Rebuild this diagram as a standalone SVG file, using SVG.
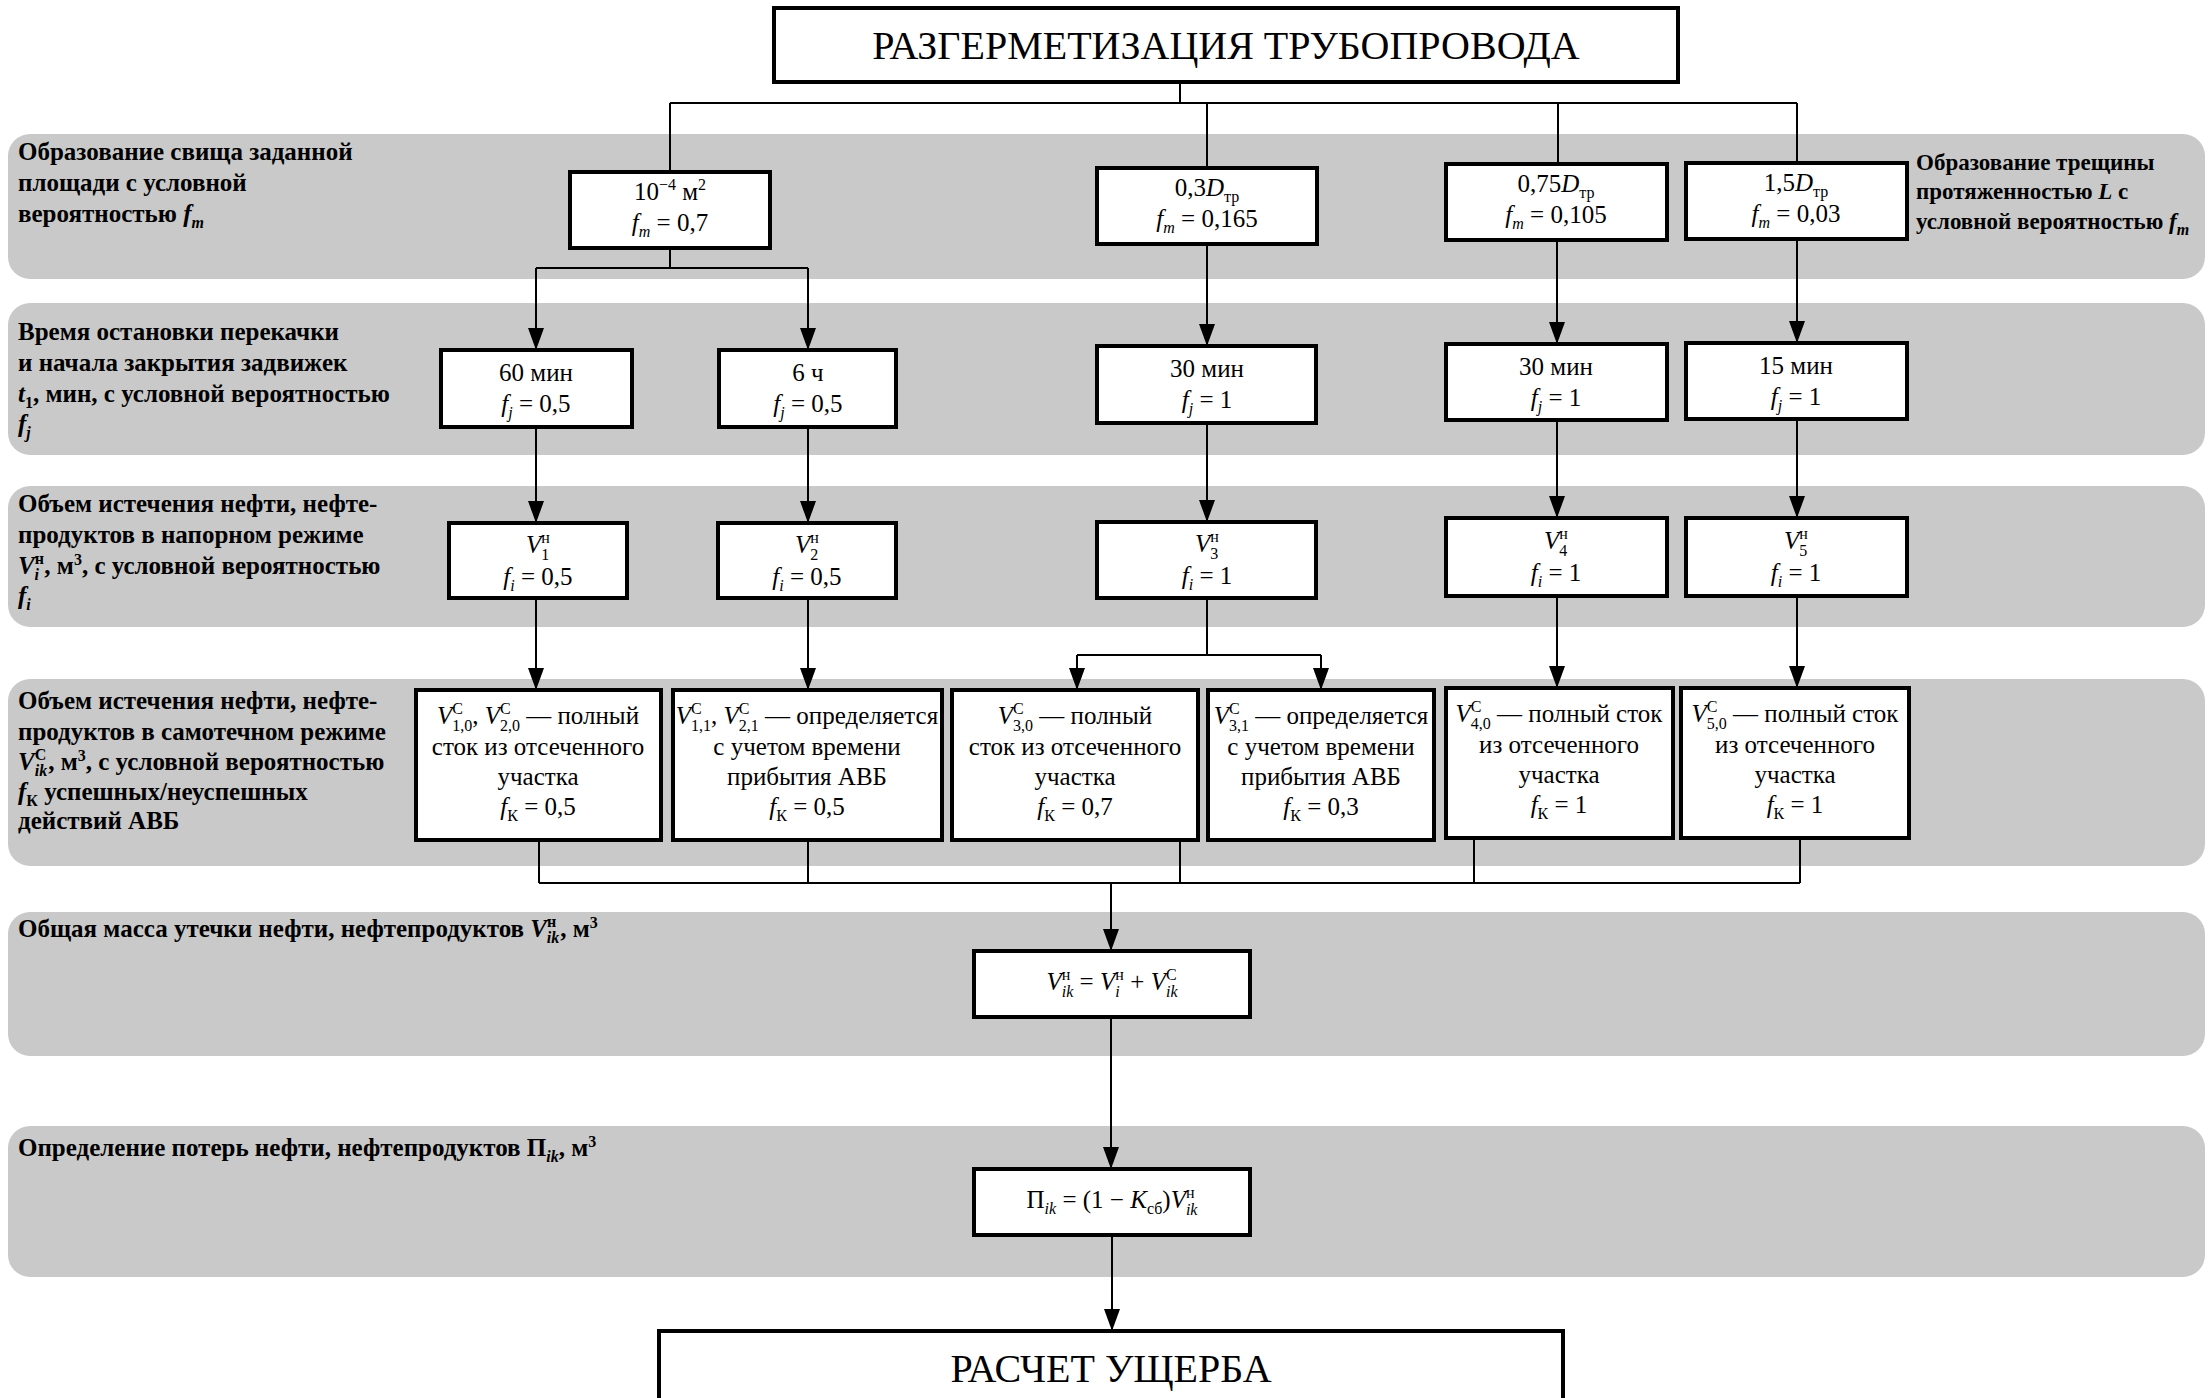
<svg xmlns="http://www.w3.org/2000/svg" width="2208" height="1398" viewBox="0 0 2208 1398">
<style>
.band{fill:#c9c9c9}
.box{fill:#fff;stroke:#000;stroke-width:4}
.con{fill:none;stroke:#000;stroke-width:2}
.arr{fill:none;stroke:#000;stroke-width:2;marker-end:url(#ah)}
.bt{font-family:"Liberation Serif",serif;font-size:25px;text-anchor:middle;fill:#000}
.ttl{font-family:"Liberation Serif",serif;font-size:40px;text-anchor:middle;fill:#000}
.lb{font-family:"Liberation Serif",serif;font-size:25px;font-weight:bold;fill:#000}
.rb{font-size:23px}
.i{font-style:italic}
.s{font-size:16px}
</style>
<defs>
<marker id="ah" viewBox="0 0 22 16" markerWidth="22" markerHeight="16" refX="22" refY="8" orient="auto" markerUnits="userSpaceOnUse"><path d="M0,0 L22,8 L0,16 Z" fill="#000"/></marker>
</defs>
<rect width="2208" height="1398" fill="#fff"/>
<g id="bands">
<rect class="band" x="8" y="134" width="2197" height="145" rx="22"/>
<rect class="band" x="8" y="303" width="2197" height="152" rx="22"/>
<rect class="band" x="8" y="486" width="2197" height="141" rx="22"/>
<rect class="band" x="8" y="679" width="2197" height="187" rx="22"/>
<rect class="band" x="8" y="912" width="2197" height="144" rx="22"/>
<rect class="band" x="8" y="1126" width="2197" height="151" rx="22"/>
</g>
<g id="labels">
<text class="lb" x="18" y="160">Образование свища заданной</text>
<text class="lb" x="18" y="191">площади с условной</text>
<text class="lb" x="18" y="222">вероятностью <tspan class="i">f</tspan><tspan class="s i" dy="6">m</tspan></text>
<text class="lb" x="18" y="340">Время остановки перекачки</text>
<text class="lb" x="18" y="371">и начала закрытия задвижек</text>
<text class="lb" x="18" y="402"><tspan class="i">t</tspan><tspan class="s" dy="6">1</tspan><tspan dy="-6">, мин, с условной вероятностью</tspan></text>
<text class="lb" x="18" y="432"><tspan class="i">f</tspan><tspan class="s i" dy="6">j</tspan></text>
<text class="lb" x="18" y="512">Объем истечения нефти, нефте-</text>
<text class="lb" x="18" y="543">продуктов в напорном режиме</text>
<text class="lb" x="18" y="574"><tspan class="i">V</tspan><tspan class="s" dy="-10">н</tspan><tspan class="s i" dx="-9.5" dy="16">i</tspan><tspan dx="5.5" dy="-6">, м</tspan><tspan class="s" dy="-9">3</tspan><tspan dy="9">, с условной вероятностью</tspan></text>
<text class="lb" x="18" y="604"><tspan class="i">f</tspan><tspan class="s i" dy="6">i</tspan></text>
<text class="lb" x="18" y="709">Объем истечения нефти, нефте-</text>
<text class="lb" x="18" y="740">продуктов в самотечном режиме</text>
<text class="lb" x="18" y="770"><tspan class="i">V</tspan><tspan class="s" dy="-10">С</tspan><tspan class="s i" dx="-11.5" dy="16">ik</tspan><tspan dx="1" dy="-6">, м</tspan><tspan class="s" dy="-9">3</tspan><tspan dy="9">, с условной вероятностью</tspan></text>
<text class="lb" x="18" y="800"><tspan class="i">f</tspan><tspan class="s" dy="6">К</tspan><tspan dy="-6"> успешных/неуспешных</tspan></text>
<text class="lb" x="18" y="829">действий АВБ</text>
<text class="lb" x="18" y="937">Общая масса утечки нефти, нефтепродуктов <tspan class="i">V</tspan><tspan class="s" dy="-10">н</tspan><tspan class="s i" dx="-9.5" dy="16">ik</tspan><tspan dx="1" dy="-6">, м</tspan><tspan class="s" dy="-9">3</tspan></text>
<text class="lb" x="18" y="1156">Определение потерь нефти, нефтепродуктов П<tspan class="s i" dy="6">ik</tspan><tspan dy="-6">, м</tspan><tspan class="s" dy="-9">3</tspan></text>
<text class="lb rb" x="1916" y="170">Образование трещины</text>
<text class="lb rb" x="1916" y="199">протяженностью <tspan class="i">L</tspan> с</text>
<text class="lb rb" x="1916" y="229">условной вероятностью <tspan class="i">f</tspan><tspan class="s i" dy="6">m</tspan></text>
</g>
<g id="connectors">
<path class="con" d="M1180 82V103M670 103H1797M670 103V172M1207 103V168M1558 103V164M1797 103V163"/>
<path class="con" d="M670 248V268M536 268H808"/>
<path class="arr" d="M536 268V350"/>
<path class="arr" d="M808 268V350"/>
<path class="arr" d="M1207 244V346"/>
<path class="arr" d="M1557 240V344"/>
<path class="arr" d="M1797 239V343"/>
<path class="arr" d="M536 427V523"/>
<path class="arr" d="M808 427V523"/>
<path class="arr" d="M1207 423V522"/>
<path class="arr" d="M1557 420V518"/>
<path class="arr" d="M1797 419V518"/>
<path class="arr" d="M536 598V690"/>
<path class="arr" d="M808 598V690"/>
<path class="con" d="M1207 598V655M1077 655H1321"/>
<path class="arr" d="M1077 655V690"/>
<path class="arr" d="M1321 655V690"/>
<path class="arr" d="M1557 596V688"/>
<path class="arr" d="M1797 596V688"/>
<path class="con" d="M539 840V883M808 840V883M1180 840V883M1474 838V883M1800 838V883M539 883H1800"/>
<path class="arr" d="M1111 883V951"/>
<path class="arr" d="M1111 1017V1169"/>
<path class="arr" d="M1112 1235V1331"/>
</g>
<g id="n-title"><rect class="box" x="774" y="8" width="904" height="74"/><text class="ttl" x="1226" y="59">РАЗГЕРМЕТИЗАЦИЯ ТРУБОПРОВОДА</text></g>
<g id="n-a1"><rect class="box" x="570" y="172" width="200" height="76"/>
<text class="bt" x="670" y="200">10<tspan class="s" dy="-10">−4</tspan><tspan dy="10"> м</tspan><tspan class="s" dy="-10">2</tspan></text>
<text class="bt" x="670" y="231"><tspan class="i">f</tspan><tspan class="s i" dy="6">m</tspan><tspan dy="-6"> = 0,7</tspan></text></g>
<g id="n-a3"><rect class="box" x="1097" y="168" width="220" height="76"/>
<text class="bt" x="1207" y="196">0,3<tspan class="i">D</tspan><tspan class="s" dy="6">тр</tspan></text>
<text class="bt" x="1207" y="227"><tspan class="i">f</tspan><tspan class="s i" dy="6">m</tspan><tspan dy="-6"> = 0,165</tspan></text></g>
<g id="n-a4"><rect class="box" x="1446" y="164" width="221" height="76"/>
<text class="bt" x="1556" y="192">0,75<tspan class="i">D</tspan><tspan class="s" dy="6">тр</tspan></text>
<text class="bt" x="1556" y="223"><tspan class="i">f</tspan><tspan class="s i" dy="6">m</tspan><tspan dy="-6"> = 0,105</tspan></text></g>
<g id="n-a5"><rect class="box" x="1686" y="163" width="221" height="76"/>
<text class="bt" x="1796" y="191">1,5<tspan class="i">D</tspan><tspan class="s" dy="6">тр</tspan></text>
<text class="bt" x="1796" y="222"><tspan class="i">f</tspan><tspan class="s i" dy="6">m</tspan><tspan dy="-6"> = 0,03</tspan></text></g>
<g id="n-b1"><rect class="box" x="441" y="350" width="191" height="77"/>
<text class="bt" x="536" y="381">60 мин</text>
<text class="bt" x="536" y="412"><tspan class="i">f</tspan><tspan class="s i" dy="6">j</tspan><tspan dy="-6"> = 0,5</tspan></text></g>
<g id="n-b2"><rect class="box" x="719" y="350" width="177" height="77"/>
<text class="bt" x="808" y="381">6 ч</text>
<text class="bt" x="808" y="412"><tspan class="i">f</tspan><tspan class="s i" dy="6">j</tspan><tspan dy="-6"> = 0,5</tspan></text></g>
<g id="n-b3"><rect class="box" x="1097" y="346" width="219" height="77"/>
<text class="bt" x="1207" y="377">30 мин</text>
<text class="bt" x="1207" y="408"><tspan class="i">f</tspan><tspan class="s i" dy="6">j</tspan><tspan dy="-6"> = 1</tspan></text></g>
<g id="n-b4"><rect class="box" x="1446" y="344" width="221" height="76"/>
<text class="bt" x="1556" y="375">30 мин</text>
<text class="bt" x="1556" y="406"><tspan class="i">f</tspan><tspan class="s i" dy="6">j</tspan><tspan dy="-6"> = 1</tspan></text></g>
<g id="n-b5"><rect class="box" x="1686" y="343" width="221" height="76"/>
<text class="bt" x="1796" y="374">15 мин</text>
<text class="bt" x="1796" y="405"><tspan class="i">f</tspan><tspan class="s i" dy="6">j</tspan><tspan dy="-6"> = 1</tspan></text></g>
<g id="n-c1"><rect class="box" x="449" y="523" width="178" height="75"/>
<text class="bt" x="538" y="553"><tspan class="i">V</tspan><tspan class="s" dy="-10">н</tspan><tspan class="s" dx="-8.6" dy="17">1</tspan></text>
<text class="bt" x="538" y="585"><tspan class="i">f</tspan><tspan class="s i" dy="6">i</tspan><tspan dy="-6"> = 0,5</tspan></text></g>
<g id="n-c2"><rect class="box" x="718" y="523" width="178" height="75"/>
<text class="bt" x="807" y="553"><tspan class="i">V</tspan><tspan class="s" dy="-10">н</tspan><tspan class="s" dx="-8.6" dy="17">2</tspan></text>
<text class="bt" x="807" y="585"><tspan class="i">f</tspan><tspan class="s i" dy="6">i</tspan><tspan dy="-6"> = 0,5</tspan></text></g>
<g id="n-c3"><rect class="box" x="1097" y="522" width="219" height="76"/>
<text class="bt" x="1207" y="552"><tspan class="i">V</tspan><tspan class="s" dy="-10">н</tspan><tspan class="s" dx="-8.6" dy="17">3</tspan></text>
<text class="bt" x="1207" y="584"><tspan class="i">f</tspan><tspan class="s i" dy="6">i</tspan><tspan dy="-6"> = 1</tspan></text></g>
<g id="n-c4"><rect class="box" x="1446" y="518" width="221" height="78"/>
<text class="bt" x="1556" y="549"><tspan class="i">V</tspan><tspan class="s" dy="-10">н</tspan><tspan class="s" dx="-8.6" dy="17">4</tspan></text>
<text class="bt" x="1556" y="581"><tspan class="i">f</tspan><tspan class="s i" dy="6">i</tspan><tspan dy="-6"> = 1</tspan></text></g>
<g id="n-c5"><rect class="box" x="1686" y="518" width="221" height="78"/>
<text class="bt" x="1796" y="549"><tspan class="i">V</tspan><tspan class="s" dy="-10">н</tspan><tspan class="s" dx="-8.6" dy="17">5</tspan></text>
<text class="bt" x="1796" y="581"><tspan class="i">f</tspan><tspan class="s i" dy="6">i</tspan><tspan dy="-6"> = 1</tspan></text></g>
<g id="n-d1"><rect class="box" x="416" y="690" width="245" height="150"/>
<text class="bt" x="538" y="724"><tspan class="i">V</tspan><tspan class="s" dy="-10">С</tspan><tspan class="s" dx="-10.7" dy="17">1,0</tspan><tspan dy="-7">, </tspan><tspan class="i">V</tspan><tspan class="s" dy="-10">С</tspan><tspan class="s" dx="-10.7" dy="17">2,0</tspan><tspan dy="-7"> — полный</tspan></text>
<text class="bt" x="538" y="755">сток из отсеченного</text>
<text class="bt" x="538" y="785">участка</text>
<text class="bt" x="538" y="815"><tspan class="i">f</tspan><tspan class="s" dy="6">К</tspan><tspan dy="-6"> = 0,5</tspan></text></g>
<g id="n-d2"><rect class="box" x="673" y="690" width="269" height="150"/>
<text class="bt" x="807" y="724"><tspan class="i">V</tspan><tspan class="s" dy="-10">С</tspan><tspan class="s" dx="-10.7" dy="17">1,1</tspan><tspan dy="-7">, </tspan><tspan class="i">V</tspan><tspan class="s" dy="-10">С</tspan><tspan class="s" dx="-10.7" dy="17">2,1</tspan><tspan dy="-7"> — определяется</tspan></text>
<text class="bt" x="807" y="755">с учетом времени</text>
<text class="bt" x="807" y="785">прибытия АВБ</text>
<text class="bt" x="807" y="815"><tspan class="i">f</tspan><tspan class="s" dy="6">К</tspan><tspan dy="-6"> = 0,5</tspan></text></g>
<g id="n-d3"><rect class="box" x="952" y="690" width="246" height="150"/>
<text class="bt" x="1075" y="724"><tspan class="i">V</tspan><tspan class="s" dy="-10">С</tspan><tspan class="s" dx="-10.7" dy="17">3,0</tspan><tspan dy="-7"> — полный</tspan></text>
<text class="bt" x="1075" y="755">сток из отсеченного</text>
<text class="bt" x="1075" y="785">участка</text>
<text class="bt" x="1075" y="815"><tspan class="i">f</tspan><tspan class="s" dy="6">К</tspan><tspan dy="-6"> = 0,7</tspan></text></g>
<g id="n-d4"><rect class="box" x="1208" y="690" width="226" height="150"/>
<text class="bt" x="1321" y="724"><tspan class="i">V</tspan><tspan class="s" dy="-10">С</tspan><tspan class="s" dx="-10.7" dy="17">3,1</tspan><tspan dy="-7"> — определяется</tspan></text>
<text class="bt" x="1321" y="755">с учетом времени</text>
<text class="bt" x="1321" y="785">прибытия АВБ</text>
<text class="bt" x="1321" y="815"><tspan class="i">f</tspan><tspan class="s" dy="6">К</tspan><tspan dy="-6"> = 0,3</tspan></text></g>
<g id="n-d5"><rect class="box" x="1446" y="688" width="227" height="150"/>
<text class="bt" x="1559" y="722"><tspan class="i">V</tspan><tspan class="s" dy="-10">С</tspan><tspan class="s" dx="-10.7" dy="17">4,0</tspan><tspan dy="-7"> — полный сток</tspan></text>
<text class="bt" x="1559" y="753">из отсеченного</text>
<text class="bt" x="1559" y="783">участка</text>
<text class="bt" x="1559" y="813"><tspan class="i">f</tspan><tspan class="s" dy="6">К</tspan><tspan dy="-6"> = 1</tspan></text></g>
<g id="n-d6"><rect class="box" x="1681" y="688" width="228" height="150"/>
<text class="bt" x="1795" y="722"><tspan class="i">V</tspan><tspan class="s" dy="-10">С</tspan><tspan class="s" dx="-10.7" dy="17">5,0</tspan><tspan dy="-7"> — полный сток</tspan></text>
<text class="bt" x="1795" y="753">из отсеченного</text>
<text class="bt" x="1795" y="783">участка</text>
<text class="bt" x="1795" y="813"><tspan class="i">f</tspan><tspan class="s" dy="6">К</tspan><tspan dy="-6"> = 1</tspan></text></g>
<g id="n-e"><rect class="box" x="974" y="951" width="276" height="66"/>
<text class="bt" x="1112" y="990"><tspan class="i">V</tspan><tspan class="s" dy="-10">н</tspan><tspan class="s i" dx="-8.6" dy="17">ik</tspan><tspan dy="-7"> = </tspan><tspan class="i">V</tspan><tspan class="s" dy="-10">н</tspan><tspan class="s i" dx="-8.6" dy="17">i</tspan><tspan dx="4.5" dy="-7"> + </tspan><tspan class="i">V</tspan><tspan class="s" dy="-10">С</tspan><tspan class="s i" dx="-10.7" dy="17">ik</tspan></text></g>
<g id="n-f"><rect class="box" x="974" y="1169" width="276" height="66"/>
<text class="bt" x="1112" y="1208">П<tspan class="s i" dy="6">ik</tspan><tspan dy="-6"> = (1 − </tspan><tspan class="i">K</tspan><tspan class="s" dy="6">сб</tspan><tspan dy="-6">)</tspan><tspan class="i">V</tspan><tspan class="s" dy="-10">н</tspan><tspan class="s i" dx="-8.6" dy="17">ik</tspan></text></g>
<g id="n-g"><rect class="box" x="659" y="1331" width="904" height="100"/><text class="ttl" x="1111" y="1382">РАСЧЕТ УЩЕРБА</text></g>
</svg>
